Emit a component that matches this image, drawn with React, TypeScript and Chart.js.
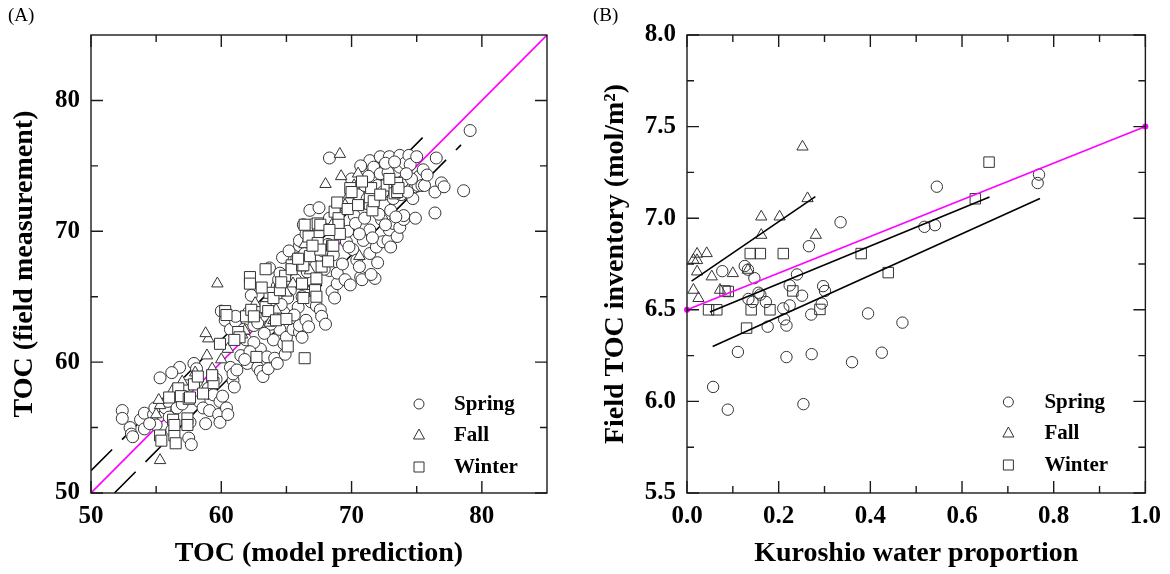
import React, { useEffect, useRef } from 'react';
import { Chart, registerables } from 'chart.js';

Chart.register(...registerables);

type P = [number, number];

const SERIF = '"Liberation Serif", "Times New Roman", Times, serif';
const MARKER = '#333333';
const MAGENTA = '#ff00ff';

// ---------------- Panel A : TOC model prediction vs field measurement ----------------
const springA: P[] = [
  [52.4, 56.3], [52.4, 55.7], [53.0, 55.0], [53.1, 54.5], [53.2, 54.3], [53.8, 55.6], [54.1, 56.1], [54.1, 54.9],
  [54.8, 56.0], [54.9, 56.5], [55.0, 55.2], [55.3, 58.8], [55.7, 56.5], [55.9, 57.0], [56.0, 55.8], [56.6, 56.5],
  [56.6, 57.7], [56.8, 59.6], [57.0, 56.8], [57.5, 54.2], [57.6, 55.4], [57.7, 53.7], [57.9, 59.9], [58.1, 59.5],
  [58.1, 58.5], [58.3, 57.0], [58.6, 56.5], [59.0, 58.0], [59.1, 56.3], [59.4, 57.5], [59.8, 56.0], [59.9, 57.0],
  [59.9, 55.4], [60.4, 56.5], [60.5, 56.0], [60.7, 59.6], [60.9, 58.6], [60.9, 59.1], [61.0, 58.1], [61.2, 59.4],
  [60.0, 63.9], [60.3, 63.2], [60.7, 62.5], [61.1, 63.1], [61.1, 63.5], [61.5, 60.5], [61.7, 62.5], [61.9, 61.7],
  [62.0, 59.9], [62.1, 63.8], [62.3, 65.1], [62.5, 62.8], [62.8, 59.6], [62.8, 63.0], [63.0, 59.3], [63.0, 61.0],
  [63.1, 64.2], [63.2, 58.9], [63.5, 60.4], [63.5, 63.5], [63.6, 59.5], [63.7, 67.2], [64.0, 61.7], [64.1, 60.3],
  [64.3, 59.9], [64.3, 65.8], [64.4, 66.3], [64.5, 66.8], [64.5, 62.5], [64.7, 68.0], [64.8, 61.4], [64.8, 63.8],
  [65.0, 61.9], [65.2, 68.5], [65.3, 65.5], [65.5, 62.5], [65.7, 66.3], [65.8, 67.9], [65.9, 64.2], [66.0, 62.3],
  [66.0, 62.8], [66.0, 68.9], [66.0, 69.3], [66.2, 61.9], [66.2, 65.0], [66.3, 70.5], [66.4, 68.3], [66.5, 63.2],
  [66.5, 69.8], [66.8, 71.6], [66.9, 64.6], [67.0, 70.5], [67.2, 67.3], [67.3, 64.3], [67.5, 71.8], [67.6, 64.0],
  [67.7, 63.5], [67.8, 68.5], [68.2, 69.0], [68.3, 67.0], [68.3, 71.0], [68.5, 65.4], [68.7, 64.9], [68.9, 66.0],
  [68.9, 66.8], [69.0, 70.5], [69.5, 66.3], [69.6, 69.2], [69.7, 70.0], [69.9, 65.9], [70.7, 66.5], [71.8, 66.4],
  [68.3, 75.6], [70.0, 74.0], [70.1, 68.6], [70.2, 71.2], [70.4, 67.8], [70.5, 72.8], [70.8, 66.3], [70.8, 74.5],
  [70.9, 69.3], [71.0, 73.5], [71.2, 72.5], [71.4, 75.4], [71.4, 70.1], [71.4, 68.3], [71.5, 66.7], [71.7, 74.9],
  [71.8, 71.7], [71.9, 68.8], [72.0, 73.5], [72.2, 75.7], [72.2, 74.4], [72.3, 70.9], [72.4, 69.2], [72.5, 72.0],
  [72.8, 74.5], [72.8, 69.3], [72.9, 75.7], [72.9, 70.1], [73.2, 70.6], [73.2, 72.5], [73.5, 69.6], [73.7, 75.8],
  [73.7, 74.9], [73.7, 70.3], [73.8, 72.8], [74.0, 70.9], [74.0, 71.2], [74.1, 75.2], [74.4, 75.8], [74.5, 75.1],
  [74.7, 72.5], [74.9, 71.0], [74.9, 73.4], [75.0, 75.7], [75.0, 74.0], [75.1, 73.5], [75.2, 74.2], [75.4, 73.5],
  [75.5, 74.7], [75.6, 73.5], [76.4, 71.4], [76.4, 73.0], [76.5, 75.6], [76.9, 73.7], [77.1, 73.4], [78.6, 73.1],
  [79.1, 77.7],
  [70.3, 70.6], [70.6, 69.8], [71.0, 71.0], [71.6, 69.5], [72.1, 71.3], [72.6, 70.5], [73.0, 71.6], [73.4, 71.1],
  [73.9, 73.8], [74.3, 73.0], [74.6, 74.0], [74.2, 74.4], [72.4, 73.0], [71.3, 74.2], [70.7, 75.0], [72.6, 75.2],
  [73.3, 75.3], [75.8, 74.3], [73.0, 68.8], [72.0, 67.6], [70.6, 67.3], [69.3, 67.5], [69.8, 68.8], [68.6, 68.2],
  [67.9, 67.1], [67.0, 66.2], [66.6, 66.9], [65.1, 64.9], [64.6, 64.4], [63.8, 62.9], [63.3, 62.2], [62.5, 61.5],
  [62.2, 60.8], [61.8, 60.2], [64.9, 60.6], [65.6, 63.6], [66.7, 62.7], [68.0, 62.9], [60.1, 57.4], [58.8, 55.3],
  [56.2, 54.8], [54.5, 55.3], [59.6, 58.7], [57.3, 58.2], [56.2, 59.2],
];
const fallA: P[] = [
  [55.3, 52.5], [55.3, 56.7], [55.2, 57.1], [55.0, 56.0], [56.3, 57.9], [57.0, 58.5], [58.0, 59.2], [59.3, 59.5],
  [58.9, 60.5], [59.0, 61.8], [58.8, 62.2], [59.7, 66.0], [60.5, 61.0], [61.6, 62.1], [61.8, 62.4], [62.6, 64.5],
  [63.7, 63.0], [64.0, 63.2], [64.2, 64.0], [65.5, 66.0], [66.4, 65.8], [66.4, 69.0], [66.8, 67.0], [67.0, 69.2],
  [68.0, 73.6], [68.5, 70.5], [69.1, 75.9], [69.2, 74.2], [69.5, 72.0], [69.8, 72.8], [70.2, 73.5], [70.5, 74.4],
  [70.6, 68.1], [71.0, 72.0], [67.4, 70.3], [68.8, 71.8], [65.0, 65.3], [60.0, 60.2],
];
const winterA: P[] = [
  [55.3, 54.4], [55.4, 54.0], [56.3, 55.6], [56.4, 54.4], [56.4, 55.2], [56.5, 53.8], [56.7, 58.0], [56.9, 57.4],
  [57.4, 55.7], [57.4, 55.2], [57.5, 57.2], [57.6, 57.3], [57.9, 58.3], [58.6, 57.6], [59.3, 58.9], [59.4, 58.4],
  [59.3, 59.0], [59.9, 61.4], [60.3, 63.9], [60.4, 63.6], [61.3, 62.3], [61.4, 61.9], [61.9, 63.5], [62.2, 66.5],
  [62.2, 66.0], [62.3, 64.0], [62.5, 63.5], [62.7, 60.4], [63.4, 67.1], [63.4, 64.2], [63.6, 63.9], [63.7, 65.3],
  [64.0, 64.9], [64.2, 63.2], [64.5, 65.5], [64.9, 66.6], [65.0, 63.3], [65.1, 61.2], [65.4, 67.4], [65.4, 67.1],
  [66.2, 67.4], [66.2, 66.0], [66.3, 64.9], [66.3, 67.4], [66.4, 60.3], [66.4, 70.5], [66.7, 69.6], [66.8, 68.1],
  [67.2, 65.5], [67.3, 66.4], [67.3, 65.0], [67.4, 69.1], [67.4, 70.6], [67.6, 68.6], [67.6, 70.5], [67.7, 67.3],
  [68.2, 67.7], [68.5, 68.9], [68.6, 68.9], [68.7, 71.5], [68.9, 72.2], [69.0, 71.0], [69.0, 70.5], [69.1, 69.8],
  [69.7, 71.7], [69.9, 73.3], [70.0, 73.0], [71.4, 72.1], [71.4, 72.6], [71.5, 73.3], [71.6, 71.6], [71.7, 72.3],
  [72.7, 73.5], [73.3, 73.7], [73.3, 72.9], [73.5, 73.7], [73.5, 73.0], [73.6, 73.3],
  [70.5, 72.0], [72.2, 72.8], [72.9, 74.0], [70.8, 73.8], [68.3, 70.1], [67.0, 68.9], [65.9, 67.9], [64.6, 66.1],
  [63.1, 65.7], [61.0, 61.7], [58.2, 58.9], [56.0, 57.3],
];
const oneToOneA: P[] = [[50, 50], [85, 85]];
const upperBandA: P[] = [[50, 51.7], [76, 77.7]];
const lowerBandA: P[] = [[51.8, 50], [78.4, 76.6]];
const majorXA = [50, 60, 70, 80];
const minorXA = [55, 65, 75];
const majorYA = [50, 60, 70, 80];
const minorYA = [55, 65, 75];

// ---------------- Panel B : Kuroshio water proportion vs field TOC inventory ----------------
const springB: P[] = [
  [0.768, 7.238], [0.765, 7.192], [0.545, 7.172], [0.518, 6.953], [0.541, 6.962], [0.335, 6.978], [0.266, 6.847],
  [0.126, 6.739], [0.133, 6.719], [0.077, 6.711], [0.147, 6.673], [0.240, 6.693], [0.224, 6.633], [0.297, 6.629],
  [0.301, 6.603], [0.156, 6.593], [0.160, 6.583], [0.134, 6.559], [0.143, 6.543], [0.172, 6.543], [0.251, 6.577],
  [0.294, 6.534], [0.224, 6.524], [0.210, 6.508], [0.212, 6.448], [0.217, 6.414], [0.271, 6.474], [0.176, 6.408],
  [0.395, 6.480], [0.470, 6.430], [0.111, 6.270], [0.217, 6.242], [0.272, 6.258], [0.360, 6.214], [0.425, 6.266],
  [0.057, 6.079], [0.089, 5.955], [0.254, 5.985],
];
const fallB: P[] = [
  [0.252, 7.390], [0.263, 7.108], [0.162, 7.008], [0.202, 7.008], [0.162, 6.908], [0.281, 6.908], [0.022, 6.805],
  [0.043, 6.808], [0.014, 6.772], [0.022, 6.770], [0.022, 6.708], [0.054, 6.681], [0.100, 6.699], [0.133, 6.717],
  [0.014, 6.608], [0.072, 6.608], [0.025, 6.563],
];
const winterB: P[] = [
  [0.659, 7.306], [0.629, 7.106], [0.138, 6.807], [0.160, 6.807], [0.210, 6.807], [0.380, 6.807], [0.439, 6.703],
  [0.083, 6.603], [0.090, 6.600], [0.231, 6.603], [0.047, 6.500], [0.065, 6.500], [0.140, 6.500], [0.181, 6.500],
  [0.290, 6.502], [0.130, 6.400],
];
const mixingLineB: P[] = [[0, 6.5], [1, 7.5]];
const fallFitB: P[] = [[0.01, 6.657], [0.28, 7.118]];
const winterFitB: P[] = [[0.05, 6.488], [0.66, 7.116]];
const springFitB: P[] = [[0.056, 6.30], [0.77, 7.108]];
const majorXB = [0, 0.2, 0.4, 0.6, 0.8, 1.0];
const minorXB = [0.1, 0.3, 0.5, 0.7, 0.9];
const majorYB = [5.5, 6.0, 6.5, 7.0, 7.5, 8.0];
const minorYB = [5.75, 6.25, 6.75, 7.25, 7.75];

const legendLabels = ['Spring', 'Fall', 'Winter'];
const legendShapes = ['circle', 'triangle', 'rect'];

const toXY = (pts: P[]) => pts.map(([x, y]) => ({ x, y }));

const scatterDs = (label: string, pts: P[], style: string, r: number, fill: string, order: number) => ({
  label,
  data: toXY(pts),
  pointStyle: style,
  pointRadius: r,
  pointHoverRadius: r,
  pointBackgroundColor: fill,
  pointBorderColor: MARKER,
  pointBorderWidth: 1,
  showLine: false,
  order,
});

const lineDs = (pts: P[], color: string, dash: number[], order: number, extra: any = {}) => ({
  label: '',
  data: toXY(pts),
  showLine: true,
  borderColor: color,
  borderWidth: 1.6,
  borderDash: dash,
  pointRadius: 0,
  fill: false,
  order,
  ...extra,
});

function framePlugin(cfg: {
  majorX: number[]; minorX: number[]; majorY: number[]; minorY: number[];
  legSymDx: number; legTextDx: number; legDy: number[];
}) {
  return {
    id: 'frameTicksLegend',
    afterDraw(chart: any) {
      const { ctx, chartArea: a } = chart;
      const xs = chart.scales.x;
      const ys = chart.scales.y;
      ctx.save();
      ctx.strokeStyle = '#1a1a1a';
      ctx.lineWidth = 1.4;
      const tx = (vals: number[], len: number) => {
        vals.forEach((v) => {
          const px = xs.getPixelForValue(v);
          ctx.beginPath();
          ctx.moveTo(px, a.bottom);
          ctx.lineTo(px, a.bottom - len);
          ctx.moveTo(px, a.top);
          ctx.lineTo(px, a.top + len);
          ctx.stroke();
        });
      };
      const ty = (vals: number[], len: number) => {
        vals.forEach((v) => {
          const py = ys.getPixelForValue(v);
          ctx.beginPath();
          ctx.moveTo(a.left, py);
          ctx.lineTo(a.left + len, py);
          ctx.moveTo(a.right, py);
          ctx.lineTo(a.right - len, py);
          ctx.stroke();
        });
      };
      tx(cfg.majorX, 12);
      tx(cfg.minorX, 7);
      ty(cfg.majorY, 12);
      ty(cfg.minorY, 7);
      ctx.strokeRect(a.left, a.top, a.right - a.left, a.bottom - a.top);

      // legend
      ctx.lineWidth = 1;
      ctx.strokeStyle = MARKER;
      ctx.fillStyle = '#000';
      ctx.font = `bold 21px ${SERIF}`;
      ctx.textBaseline = 'middle';
      ctx.textAlign = 'left';
      legendLabels.forEach((lab, i) => {
        const sx = a.right - cfg.legSymDx;
        const sy = a.bottom - cfg.legDy[i];
        ctx.beginPath();
        const shape = legendShapes[i];
        if (shape === 'circle') {
          ctx.arc(sx, sy, 5, 0, Math.PI * 2);
        } else if (shape === 'triangle') {
          ctx.moveTo(sx, sy - 6);
          ctx.lineTo(sx + 5.5, sy + 4);
          ctx.lineTo(sx - 5.5, sy + 4);
          ctx.closePath();
        } else {
          ctx.rect(sx - 5, sy - 5, 10, 10);
        }
        ctx.stroke();
        ctx.fillText(lab, a.right - cfg.legTextDx, sy + 1);
      });
      ctx.restore();
    },
  };
}

const tickFont = { family: SERIF, size: 25, weight: 'bold' as const };
const titleFont = { family: SERIF, size: 28, weight: 'bold' as const };

function axisX(min: number, max: number, step: number, title: string, height: number, fmt?: (v: number) => string) {
  return {
    type: 'linear',
    min,
    max,
    ticks: {
      stepSize: step,
      includeBounds: false,
      autoSkip: false,
      maxRotation: 0,
      font: tickFont,
      color: '#000',
      padding: 9,
      callback: fmt ? (v: any) => fmt(Number(v)) : undefined,
    },
    grid: { display: false, drawTicks: false, tickLength: 0 },
    border: { display: false },
    title: { display: true, text: title, font: titleFont, color: '#000', padding: { top: 0, bottom: 3 } },
    afterFit: (s: any) => {
      s.height = height;
    },
  };
}

function axisY(min: number, max: number, step: number, title: string, width: number, titlePad: number, fmt?: (v: number) => string) {
  return {
    type: 'linear',
    min,
    max,
    ticks: {
      stepSize: step,
      includeBounds: false,
      autoSkip: false,
      font: tickFont,
      color: '#000',
      padding: 11,
      callback: fmt ? (v: any) => fmt(Number(v)) : undefined,
    },
    grid: { display: false, drawTicks: false, tickLength: 0 },
    border: { display: false },
    title: { display: true, text: title, font: titleFont, color: '#000', padding: { top: titlePad, bottom: 0 } },
    afterFit: (s: any) => {
      s.width = width;
    },
  };
}

export default function App() {
  const refA = useRef<HTMLCanvasElement | null>(null);
  const refB = useRef<HTMLCanvasElement | null>(null);

  useEffect(() => {
    const chartA = new Chart(refA.current as HTMLCanvasElement, {
      type: 'scatter',
      data: {
        datasets: [
          scatterDs('Winter', winterA, 'rect', 7.8, '#ffffff', 0),
          scatterDs('Fall', fallA, 'triangle', 6.6, '#ffffff', 1),
          scatterDs('Spring', springA, 'circle', 6.0, '#ffffff', 2),
          lineDs(oneToOneA, MAGENTA, [], 3),
          lineDs(upperBandA, '#000000', [30, 14], 4),
          lineDs(lowerBandA, '#000000', [30, 14], 5),
        ] as any,
      },
      options: {
        responsive: false,
        animation: false,
        devicePixelRatio: 1,
        events: [],
        layout: { padding: { left: 0, top: 35, right: 38, bottom: 0 } },
        plugins: { legend: { display: false }, tooltip: { enabled: false } },
        scales: {
          x: axisX(50, 85, 10, 'TOC (model prediction)', 81) as any,
          y: axisY(50, 85, 10, 'TOC (field measurement)', 91, 8) as any,
        },
      },
      plugins: [
        framePlugin({
          majorX: majorXA, minorX: minorXA, majorY: majorYA, minorY: minorYA,
          legSymDx: 128, legTextDx: 93, legDy: [89, 58, 26],
        }),
      ],
    });

    const fmt1 = (v: number) => v.toFixed(1);
    const chartB = new Chart(refB.current as HTMLCanvasElement, {
      type: 'scatter',
      data: {
        datasets: [
          lineDs(mixingLineB, MAGENTA, [], 0, {
            pointRadius: 3,
            pointBackgroundColor: MAGENTA,
            pointBorderColor: MAGENTA,
            pointBorderWidth: 0,
            clip: false,
          }),
          lineDs(fallFitB, '#000000', [], 1),
          lineDs(winterFitB, '#000000', [], 1),
          lineDs(springFitB, '#000000', [], 1),
          scatterDs('Winter', winterB, 'rect', 7.4, 'rgba(255,255,255,0)', 2),
          scatterDs('Fall', fallB, 'triangle', 6.5, 'rgba(255,255,255,0)', 2),
          scatterDs('Spring', springB, 'circle', 5.7, 'rgba(255,255,255,0)', 2),
        ] as any,
      },
      options: {
        responsive: false,
        animation: false,
        devicePixelRatio: 1,
        events: [],
        layout: { padding: { left: 0, top: 35, right: 22, bottom: 0 } },
        plugins: { legend: { display: false }, tooltip: { enabled: false } },
        scales: {
          x: axisX(0, 1, 0.2, 'Kuroshio water proportion', 81, fmt1) as any,
          y: axisY(5.5, 8.0, 0.5, 'Field TOC inventory (mol/m\u00B2)', 102, 14, fmt1) as any,
        },
      },
      plugins: [
        framePlugin({
          majorX: majorXB, minorX: minorXB, majorY: majorYB, minorY: minorYB,
          legSymDx: 137, legTextDx: 101, legDy: [91, 60, 28],
        }),
      ],
    });

    return () => {
      chartA.destroy();
      chartB.destroy();
    };
  }, []);

  const panelLabel: React.CSSProperties = {
    position: 'absolute',
    top: 5,
    fontFamily: SERIF,
    fontSize: 19,
    lineHeight: 1,
    color: '#000',
  };

  return (
    <div style={{ position: 'absolute', left: 0, top: 0, width: 1170, height: 574, background: '#fff', overflow: 'hidden' }}>
      <canvas ref={refA} width={585} height={574} style={{ position: 'absolute', left: 0, top: 0, width: 585, height: 574 }} />
      <canvas ref={refB} width={585} height={574} style={{ position: 'absolute', left: 585, top: 0, width: 585, height: 574 }} />
      <div style={{ ...panelLabel, left: 8 }}>(A)</div>
      <div style={{ ...panelLabel, left: 593 }}>(B)</div>
    </div>
  );
}
